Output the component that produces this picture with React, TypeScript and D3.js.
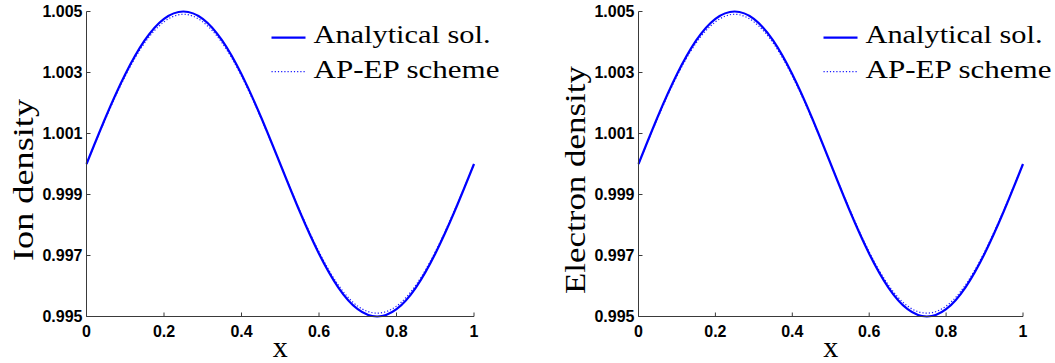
import React from 'react';
import * as d3 from 'd3';

// Sample positions along the domain
const xSamples = [0, 0.05, 0.1, 0.15, 0.2, 0.25, 0.3, 0.35, 0.4, 0.45, 0.5, 0.55, 0.6, 0.65, 0.7, 0.75, 0.8, 0.85, 0.9, 0.95, 1];

// Ion density: analytical solution and AP-EP scheme result
const ionAnalytical = [1.0, 1.00155, 1.00294, 1.00405, 1.00476, 1.005, 1.00476, 1.00405, 1.00294, 1.00155, 1.0, 0.99845, 0.99706, 0.99595, 0.99524, 0.995, 0.99524, 0.99595, 0.99706, 0.99845, 1.0];
const ionScheme = [1.0, 1.00151, 1.00288, 1.00397, 1.00466, 1.00491, 1.00466, 1.00397, 1.00288, 1.00151, 1.0, 0.99849, 0.99712, 0.99603, 0.99534, 0.99511, 0.99534, 0.99603, 0.99712, 0.99849, 1.0];

// Electron density: analytical solution and AP-EP scheme result
const electronAnalytical = [1.0, 1.00155, 1.00294, 1.00405, 1.00476, 1.005, 1.00476, 1.00405, 1.00294, 1.00155, 1.0, 0.99845, 0.99706, 0.99595, 0.99524, 0.995, 0.99524, 0.99595, 0.99706, 0.99845, 1.0];
const electronScheme = [1.0, 1.00151, 1.00288, 1.00397, 1.00466, 1.00491, 1.00466, 1.00397, 1.00288, 1.00151, 1.0, 0.99849, 0.99712, 0.99603, 0.99534, 0.99511, 0.99534, 0.99603, 0.99712, 0.99849, 1.0];

const xTicks = [0, 0.2, 0.4, 0.6, 0.8, 1];
const xTickLabels = ['0', '0.2', '0.4', '0.6', '0.8', '1'];
const yTicks = [0.995, 0.997, 0.999, 1.001, 1.003, 1.005];
const yTickLabels = ['0.995', '0.997', '0.999', '1.001', '1.003', '1.005'];

const legendLabels = ['Analytical sol.', 'AP-EP scheme'];

const BLUE = '#0000ff';
const AXIS = '#3a3a3a';
const TICK_FONT = '"Liberation Sans", Arial, Helvetica, sans-serif';
const SERIF = '"Liberation Serif", "Times New Roman", Times, serif';

type PanelProps = {
  left: number;
  right: number;
  yLabel: string;
  yLabelLength: number;
  analytical: number[];
  scheme: number[];
};

function Panel({ left, right, yLabel, yLabelLength, analytical, scheme }: PanelProps) {
  const top = 11.5;
  const bottom = 316.5;
  const x = d3.scaleLinear().domain([0, 1]).range([left, right]);
  const y = d3.scaleLinear().domain([0.995, 1.005]).range([bottom, top]);

  const line = d3
    .line<number>()
    .x((_, i) => x(xSamples[i]))
    .y((d) => y(d))
    .curve(d3.curveNatural);

  const legendX = left + 185;
  const midX = (left + right) / 2;

  return (
    <g>
      {/* curves */}
      <path d={line(analytical) || ''} fill="none" stroke={BLUE} strokeWidth={2.2} />
      <path d={line(scheme) || ''} fill="none" stroke={BLUE} strokeWidth={1.2} strokeDasharray="1.2 2" opacity={0.9} />

      {/* axes */}
      <line x1={left} x2={left} y1={top} y2={bottom} stroke={AXIS} strokeWidth={1} />
      <line x1={left} x2={right} y1={bottom} y2={bottom} stroke={AXIS} strokeWidth={1} />

      {yTicks.map((t, i) => (
        <g key={'y' + i}>
          <line x1={left} x2={left + 4} y1={y(t)} y2={y(t)} stroke={AXIS} strokeWidth={1} />
          <text
            x={left - 4}
            y={y(t)}
            dy="0.36em"
            textAnchor="end"
            fontFamily={TICK_FONT}
            fontWeight="bold"
            fontSize={16}
            fill="#000"
          >
            {yTickLabels[i]}
          </text>
        </g>
      ))}

      {xTicks.map((t, i) => (
        <g key={'x' + i}>
          <line x1={x(t)} x2={x(t)} y1={bottom} y2={bottom - 4} stroke={AXIS} strokeWidth={1} />
          <text
            x={x(t)}
            y={336.5}
            textAnchor="middle"
            fontFamily={TICK_FONT}
            fontWeight="bold"
            fontSize={16}
            fill="#000"
          >
            {xTickLabels[i]}
          </text>
        </g>
      ))}

      {/* axis labels */}
      <text x={midX} y={357} textAnchor="middle" fontFamily={SERIF} fontSize={30} fill="#000">
        x
      </text>
      <text
        transform={`translate(${left - 54},180) rotate(-90)`}
        textAnchor="middle"
        fontFamily={SERIF}
        fontSize={30}
        fill="#000"
        textLength={yLabelLength}
        lengthAdjust="spacingAndGlyphs"
      >
        {yLabel}
      </text>

      {/* legend */}
      <line x1={legendX} x2={legendX + 34} y1={37.7} y2={37.7} stroke={BLUE} strokeWidth={2.2} />
      <line
        x1={legendX}
        x2={legendX + 34}
        y1={71.7}
        y2={71.7}
        stroke={BLUE}
        strokeWidth={1.2}
        strokeDasharray="1.2 2"
        opacity={0.9}
      />
      <text
        x={legendX + 42}
        y={43.3}
        fontFamily={SERIF}
        fontSize={25}
        fill="#000"
        textLength={177}
        lengthAdjust="spacingAndGlyphs"
      >
        {legendLabels[0]}
      </text>
      <text
        x={legendX + 42}
        y={78.3}
        fontFamily={SERIF}
        fontSize={25}
        fill="#000"
        textLength={186}
        lengthAdjust="spacingAndGlyphs"
      >
        {legendLabels[1]}
      </text>
    </g>
  );
}

export default function App() {
  return (
    <svg
      width={1055}
      height={363}
      viewBox="0 0 1055 363"
      style={{ position: 'absolute', left: 0, top: 0, background: '#fff' }}
    >
      <rect x={0} y={0} width={1055} height={363} fill="#fff" />
      <Panel
        left={86.5}
        right={474}
        yLabel="Ion density"
        yLabelLength={162}
        analytical={ionAnalytical}
        scheme={ionScheme}
      />
      <Panel
        left={638.5}
        right={1023}
        yLabel="Electron density"
        yLabelLength={228}
        analytical={electronAnalytical}
        scheme={electronScheme}
      />
    </svg>
  );
}
